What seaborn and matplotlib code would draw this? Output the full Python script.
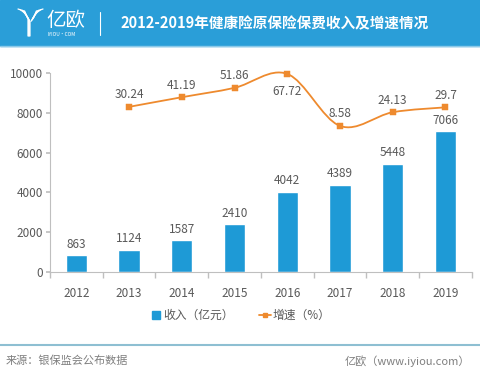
import numpy as np
import pandas as pd
import matplotlib.pyplot as plt
from matplotlib.path import Path
from matplotlib.patches import PathPatch, Rectangle
from matplotlib.lines import Line2D
import seaborn as sns

years = ['2012', '2013', '2014', '2015', '2016', '2017', '2018', '2019']
income = [863, 1124, 1587, 2410, 4042, 4389, 5448, 7066]
growth_years = ['2013', '2014', '2015', '2016', '2017', '2018', '2019']
growth = [30.24, 41.19, 51.86, 67.72, 8.58, 24.13, 29.7]
y_ticks = [0, 2000, 4000, 6000, 8000, 10000]

blue = '#1E9AD6'
orange = '#EE8A2E'
grey = '#595959'

sns.set_theme(style='white')
plt.rcParams['font.family'] = ['Noto Sans CJK SC', 'DejaVu Sans']

df = pd.DataFrame({'year': years, 'income': income})

fig = plt.figure(figsize=(4.8, 3.77), dpi=100)
ax = fig.add_axes([0.104, 0.2785, 0.879, 0.528])

sns.barplot(data=df, x='year', y='income', order=years, color=blue,
            width=0.4, saturation=1, ax=ax)
ax.set_ylim(0, 10000)
ax.set_xlim(-0.5, 7.5)
ax.set_yticks(y_ticks)
ax.set_xlabel('')
ax.set_ylabel('')
for c in ax.containers:
    ax.bar_label(c, labels=[str(v) for v in income], padding=3,
                 fontsize=8.5, color=grey)

for s in ['top', 'right']:
    ax.spines[s].set_visible(False)
for s in ['left', 'bottom']:
    ax.spines[s].set_color('#BFBFBF')
    ax.spines[s].set_linewidth(0.8)
ax.tick_params(axis='y', left=True, length=3, color='#BFBFBF',
               labelsize=8.5, labelcolor=grey, pad=2)
ax.tick_params(axis='x', bottom=False, labelsize=8.5, labelcolor=grey, pad=5)
ax.set_xticks(np.arange(-0.5, 8, 1), minor=True)
ax.tick_params(axis='x', which='minor', bottom=True, length=4, color='#BFBFBF')

# growth rate on hidden secondary axis
ax2 = ax.twinx()
gx = np.array([years.index(y) for y in growth_years], dtype=float)
gy = np.array(growth)
ax2.set_ylim(-157.6, 68.8)
ax2.axis('off')

# smoothed connector (Catmull-Rom style bezier through the data points)
pts = np.column_stack([gx, gy])
ext = np.vstack([pts[0], pts, pts[-1]])
verts = [tuple(pts[0])]
codes = [Path.MOVETO]
for i in range(len(pts) - 1):
    p0, p1, p2, p3 = ext[i], ext[i + 1], ext[i + 2], ext[i + 3]
    c1 = p1 + (p2 - p0) / 6
    c2 = p2 - (p3 - p1) / 6
    verts += [tuple(c1), tuple(c2), tuple(p2)]
    codes += [Path.CURVE4] * 3
ax2.add_patch(PathPatch(Path(verts, codes), facecolor='none',
                        edgecolor=orange, lw=1.3, zorder=2, clip_on=False))
sns.scatterplot(x=gx, y=gy, marker='s', s=18, color=orange,
                edgecolor=orange, ax=ax2, zorder=3, clip_on=False)
for xv, yv in zip(gx, gy):
    off = -8 if yv == max(gy) else 4
    va = 'top' if off < 0 else 'bottom'
    ax2.annotate(f'{yv:g}', (xv, yv), xytext=(0, off), textcoords='offset points',
                 ha='center', va=va, fontsize=8.5, color=grey)

# legend
handles = [Line2D([], [], marker='s', ls='', color=blue, markersize=6),
           Line2D([], [], marker='s', ls='-', color=orange, markersize=3.5, lw=1.3)]
fig.legend(handles, ['收入（亿元）', '增速（%）'], loc='center',
           bbox_to_anchor=(0.5, 0.163), ncol=2, frameon=False,
           fontsize=8.5, labelcolor=grey, handlelength=1.0, handletextpad=0.1,
           columnspacing=2.2)

# header and footer overlay in pixel coordinates
ov = fig.add_axes([0, 0, 1, 1], zorder=-1)
ov.set_xlim(0, 480)
ov.set_ylim(377, 0)
ov.axis('off')
ov.add_patch(Rectangle((0, 0), 480, 46, color='#2A9ED8', zorder=0))
ov.plot([0, 480], [46, 46], color='#8CC9E8', lw=1)
# logo strokes
for k in range(4):
    d = k * 2.2
    ov.plot([18 + d, 24 + d * 0.5, 28 + d * 0.3, 28 + d * 0.3],
            [9 + d * 0.3, 11 + d, 18 + d * 0.5, 36], color='white', lw=0.9,
            solid_capstyle='round')
    ov.plot([43 - d, 37 - d * 0.5, 33 - d * 0.3],
            [9 + d * 0.3, 11 + d, 18 + d * 0.5], color='white', lw=0.9,
            solid_capstyle='round')
ov.text(46, 20, '亿欧', color='white', fontsize=14, ha='left', va='center')
ov.text(47, 34, 'IYIOU·COM', color='white', fontsize=3.5, ha='left', va='center')
ov.plot([100, 100], [12, 35], color='white', lw=0.8)
ov.text(120, 23, '2012-2019年健康险原保险保费收入及增速情况', color='white',
        fontsize=10.5, fontweight='bold', ha='left', va='center')

ov.plot([0, 480], [345, 345], color='#8EBFD2', lw=1.5)
ov.text(6, 361, '来源：银保监会公布数据', color='#7F7F7F', fontsize=8,
        ha='left', va='center')
ov.text(470, 361, '亿欧（www.iyiou.com）', color='#7F7F7F', fontsize=8,
        ha='right', va='center')

fig.savefig('out.png', dpi=100)
